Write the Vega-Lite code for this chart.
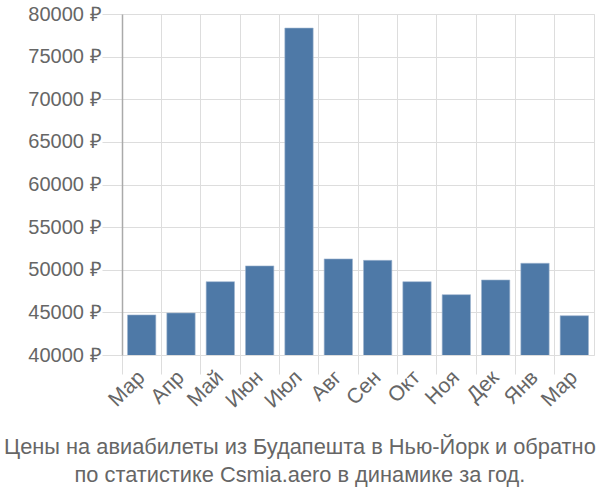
{
  "$schema": "https://vega.github.io/schema/vega-lite/v6.json",
  "autosize": {"type": "none"},
  "padding": {"left": 122, "top": 14, "right": 6, "bottom": 145},
  "width": 472,
  "height": 341,
  "data": {"values": [
    {"i": 0, "m": "Мар", "v": 44700},
    {"i": 1, "m": "Апр", "v": 44930},
    {"i": 2, "m": "Май", "v": 48600},
    {"i": 3, "m": "Июн", "v": 50450},
    {"i": 4, "m": "Июл", "v": 78350},
    {"i": 5, "m": "Авг", "v": 51270},
    {"i": 6, "m": "Сен", "v": 51100},
    {"i": 7, "m": "Окт", "v": 48600},
    {"i": 8, "m": "Ноя", "v": 47080},
    {"i": 9, "m": "Дек", "v": 48800},
    {"i": 10, "m": "Янв", "v": 50760},
    {"i": 11, "m": "Мар ", "v": 44610}
  ]},
  "title": {
    "text": ["Цены на авиабилеты из Будапешта в Нью-Йорк и обратно", "по статистике Csmia.aero в динамике за год."],
    "orient": "bottom",
    "anchor": "middle",
    "frame": "bounds",
    "font": "Liberation Sans",
    "fontSize": 21.8,
    "fontWeight": "normal",
    "color": "#666666",
    "lineHeight": 28,
    "offset": 26,
    "dx": -11
  },
  "mark": {"type": "bar", "color": "#4e79a7", "stroke": "#9fb6d0", "strokeWidth": 0.6, "clip": true},
  "encoding": {
    "x": {
      "field": "m", "type": "nominal", "sort": null,
      "scale": {"paddingInner": 0.28, "paddingOuter": 0.14},
      "axis": {
        "title": null, "labelAngle": -45, "labelAlign": "right", "labelBaseline": "middle",
        "labelFont": "Liberation Sans", "labelFontSize": 21, "labelColor": "#666666",
        "labelExpr": "trim(datum.label)",
        "bandPosition": -0.194, "tickSize": 19, "tickColor": "#dddddd", "gridColor": "#dddddd",
        "grid": true, "domain": false, "labelPadding": 0, "labelOffset": 0
      }
    },
    "y": {
      "field": "v", "type": "quantitative",
      "scale": {"domain": [40000, 80000], "nice": false, "zero": false},
      "axis": {
        "title": null, "values": [40000, 45000, 50000, 55000, 60000, 65000, 70000, 75000, 80000],
        "labelExpr": "datum.value + ' ₽'",
        "labelFont": "Liberation Sans", "labelFontSize": 20, "labelColor": "#666666",
        "tickSize": 20, "tickColor": "#dddddd", "gridColor": "#dddddd",
        "domainColor": "#aaaaaa", "domainWidth": 1.5, "labelPadding": 1
      }
    }
  },
  "config": {"view": {"stroke": "#dddddd"}}
}
